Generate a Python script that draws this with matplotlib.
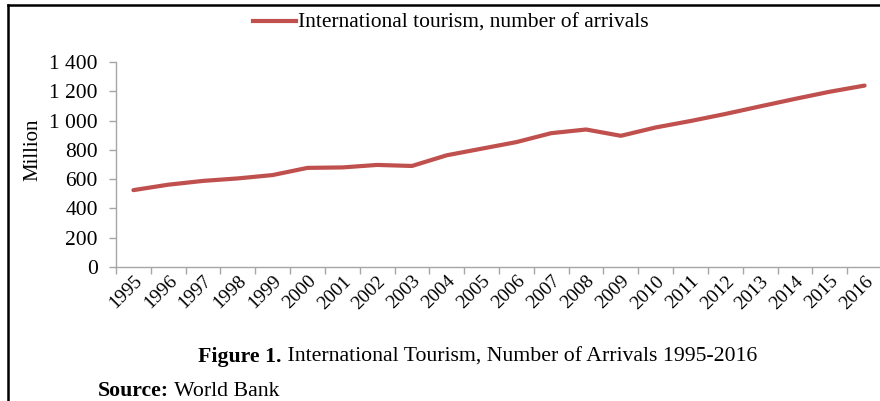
import matplotlib.pyplot as plt
from matplotlib.lines import Line2D

# international arrivals, million (World Bank)
years = [str(y) for y in range(1995, 2017)]
arrivals = [525, 562, 588, 605, 628, 677, 680, 697, 690, 763, 808,
            853, 914, 939, 896, 953, 997, 1045, 1097, 1148, 1197, 1239]
yticks = [0, 200, 400, 600, 800, 1000, 1200, 1400]
ytick_labels = ['0', '200', '400', '600', '800', '1 000', '1 200', '1 400']

W, H = 880, 401
plt.rcParams['font.family'] = ['Liberation Serif', 'DejaVu Serif']

fig = plt.figure(figsize=(W / 100, H / 100), dpi=100)

def fx(px):
    return px / W

def fy(py):
    return 1 - py / H

ax = fig.add_axes([fx(116), fy(267), fx(882) - fx(116), fy(62) - fy(267)])
x = list(range(len(years)))
ax.plot(x, arrivals, color='#c0504d', lw=3, solid_capstyle='round',
        solid_joinstyle='round')

ax.set_ylim(0, 1400)
ax.set_xlim(-0.5, len(years) - 0.5)
ax.set_yticks(yticks)
ax.set_yticklabels(ytick_labels, fontsize=15.5)
ax.set_xticks(x)
ax.set_xticklabels(years, fontsize=14, rotation=45, ha='right',
                   rotation_mode='anchor')
ax.set_xticks([i - 0.5 for i in range(len(years) + 1)], minor=True)
ax.tick_params(axis='x', which='major', length=0, pad=4)
ax.tick_params(axis='x', which='minor', length=5, color='#a6a6a6', width=1)
ax.tick_params(axis='y', length=5, color='#a6a6a6', width=1, pad=8)
for s in ['top', 'right']:
    ax.spines[s].set_visible(False)
for s in ['left', 'bottom']:
    ax.spines[s].set_color('#a6a6a6')
    ax.spines[s].set_linewidth(1)

fig.text(fx(33), fy(150), 'Million', rotation=90, fontsize=15,
         ha='center', va='center')

handle = Line2D([], [], color='#c0504d', lw=3)
fig.legend([handle], ['International tourism, number of arrivals'],
           loc='center', bbox_to_anchor=(fx(451), fy(23)), frameon=False,
           fontsize=15.5, handlelength=2.0, handletextpad=0.1)

# caption and source: bold lead-in followed by regular text
t1 = fig.text(fx(198), fy(357), 'Figure 1.', fontsize=15.7, fontweight='bold',
              ha='left', va='center')
ax.annotate(' International Tourism, Number of Arrivals 1995-2016',
            xy=(1, 0.5), xycoords=t1, fontsize=15.7, ha='left', va='center',
            annotation_clip=False)
t2 = fig.text(fx(98), fy(391), 'Source:', fontsize=15.7, fontweight='bold',
              ha='left', va='center')
ax.annotate(' World Bank', xy=(1, 0.5), xycoords=t2, fontsize=15.7,
            ha='left', va='center', annotation_clip=False)

# page frame
fig.add_artist(Line2D([fx(8), fx(8)], [fy(5), 0], color='black', lw=1.8))
fig.add_artist(Line2D([fx(8), 1], [fy(5), fy(5)], color='black', lw=1.8))

fig.savefig('out.png', dpi=100)
